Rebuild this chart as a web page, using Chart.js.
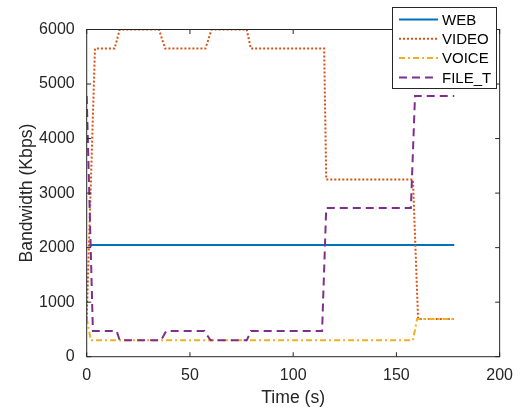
<!DOCTYPE html>
<html lang="en">
<head>
    <meta charset="UTF-8">
    <script src="https://cdn.jsdelivr.net/npm/chart.js"></script>
    <title>Bandwidth over time</title>
    <style>
        body {
            margin: 0;
            padding: 0;
            background-color: #ffffff;
        }

        .chart-container {
            width: 522px;
            height: 410px;
        }
    </style>
</head>
<body>
    <div class="chart-container">
        <canvas id="bandwidthChart" width="522" height="410"></canvas>
    </div>

    <script>
        // data (time in s, bandwidth in Kbps)
        const webTime = [1, 178];
        const webRate = [2050, 2050];

        const videoTime = [0, 4, 13.5, 16, 35, 38, 57.5, 60.5, 77.5, 79.5, 115, 116, 158, 160.5, 178];
        const videoRate = [700, 5650, 5650, 6000, 6000, 5650, 5650, 6000, 6000, 5650, 5650, 3250, 3250, 690, 690];

        const voiceTime = [0, 2, 158, 160, 178];
        const voiceRate = [710, 300, 300, 690, 690];

        const fileTime = [0, 3, 14.5, 16, 36, 38.5, 57, 60, 77.5, 79.5, 114, 116, 157, 159, 178];
        const fileRate = [4780, 470, 470, 300, 300, 470, 470, 300, 300, 470, 470, 2725, 2725, 4780, 4780];

        const xTicks = [0, 50, 100, 150, 200];
        const yTicks = [0, 1000, 2000, 3000, 4000, 5000, 6000];

        const axisColor = '#262626';
        const tickFont = { family: "'Liberation Sans', Arial, sans-serif", size: 16 };
        const titleFont = { family: "'Liberation Sans', Arial, sans-serif", size: 17.6 };

        function toPoints(xs, ys) {
            return xs.map((x, i) => ({ x: x, y: ys[i] }));
        }

        // box round the plot with inward ticks on all four sides
        const boxPlugin = {
            id: 'matlabBox',
            afterDatasetsDraw(chart) {
                const { ctx, chartArea: a, scales } = chart;
                const tl = 4.5;
                ctx.save();
                ctx.strokeStyle = axisColor;
                ctx.lineWidth = 1;
                ctx.beginPath();
                xTicks.forEach(v => {
                    const px = scales.x.getPixelForValue(v);
                    ctx.moveTo(px, a.bottom); ctx.lineTo(px, a.bottom - tl);
                    ctx.moveTo(px, a.top); ctx.lineTo(px, a.top + tl);
                });
                yTicks.forEach(v => {
                    const py = scales.y.getPixelForValue(v);
                    ctx.moveTo(a.left, py); ctx.lineTo(a.left + tl, py);
                    ctx.moveTo(a.right, py); ctx.lineTo(a.right - tl, py);
                });
                ctx.stroke();
                ctx.strokeRect(a.left, a.top, a.right - a.left, a.bottom - a.top);
                ctx.restore();
            }
        };

        // legend box in the top right corner, as in the figure
        const legendPlugin = {
            id: 'boxLegend',
            afterDraw(chart) {
                const ctx = chart.ctx;
                const bx = 392, by = 7, bw = 104, bh = 81;
                ctx.save();
                ctx.fillStyle = '#ffffff';
                ctx.fillRect(bx, by, bw, bh);
                ctx.strokeStyle = axisColor;
                ctx.lineWidth = 1;
                ctx.strokeRect(bx + 0.5, by + 0.5, bw, bh);
                ctx.font = "15px 'Liberation Sans', Arial, sans-serif";
                ctx.textBaseline = 'middle';
                chart.data.datasets.forEach((ds, i) => {
                    const y = by + 12.5 + i * 19.3;
                    ctx.strokeStyle = ds.borderColor;
                    ctx.lineWidth = ds.borderWidth;
                    ctx.setLineDash(ds.borderDash || []);
                    ctx.beginPath();
                    ctx.moveTo(399, y);
                    ctx.lineTo(438, y);
                    ctx.stroke();
                    ctx.setLineDash([]);
                    ctx.fillStyle = '#000000';
                    ctx.fillText(ds.label, 442, y + 1);
                });
                ctx.restore();
            }
        };

        new Chart(document.getElementById('bandwidthChart').getContext('2d'), {
            type: 'line',
            data: {
                datasets: [{
                    label: 'WEB',
                    data: toPoints(webTime, webRate),
                    borderColor: '#0072BD',
                    borderWidth: 2,
                    order: 4
                }, {
                    label: 'VIDEO',
                    data: toPoints(videoTime, videoRate),
                    borderColor: '#D95319',
                    borderWidth: 2,
                    borderDash: [2, 2],
                    order: 3
                }, {
                    label: 'VOICE',
                    data: toPoints(voiceTime, voiceRate),
                    borderColor: '#EDB120',
                    borderWidth: 2,
                    borderDash: [6, 3, 2, 3],
                    order: 2
                }, {
                    label: 'FILE_T',
                    data: toPoints(fileTime, fileRate),
                    borderColor: '#7E2F8E',
                    borderWidth: 2,
                    borderDash: [8, 5],
                    order: 1
                }]
            },
            options: {
                responsive: false,
                animation: false,
                elements: {
                    point: { radius: 0 },
                    line: { tension: 0, fill: false }
                },
                layout: {
                    padding: { left: 0, right: 18, top: 29.5, bottom: 0 }
                },
                plugins: {
                    legend: { display: false },
                    tooltip: { enabled: false }
                },
                scales: {
                    x: {
                        type: 'linear',
                        min: 0,
                        max: 200,
                        afterFit: s => { s.height = 53.3; },
                        afterBuildTicks: s => { s.ticks = xTicks.map(v => ({ value: v })); },
                        grid: { display: false, drawTicks: false, tickLength: 0 },
                        border: { display: false },
                        ticks: {
                            color: axisColor,
                            font: tickFont,
                            padding: 9,
                            maxRotation: 0,
                            callback: v => String(v)
                        },
                        title: {
                            display: true,
                            text: 'Time (s)',
                            color: axisColor,
                            font: titleFont,
                            padding: { top: 0, bottom: 1.4 }
                        }
                    },
                    y: {
                        type: 'linear',
                        min: 0,
                        max: 6000,
                        afterFit: s => { s.width = 86.7; },
                        afterBuildTicks: s => { s.ticks = yTicks.map(v => ({ value: v })); },
                        grid: { display: false, drawTicks: false, tickLength: 0 },
                        border: { display: false },
                        ticks: {
                            color: axisColor,
                            font: tickFont,
                            padding: 12,
                            callback: v => String(v)
                        },
                        title: {
                            display: true,
                            text: 'Bandwidth (Kbps)',
                            color: axisColor,
                            font: titleFont,
                            padding: { top: 17, bottom: 0 }
                        }
                    }
                }
            },
            plugins: [boxPlugin, legendPlugin]
        });
    </script>
</body>
</html>
